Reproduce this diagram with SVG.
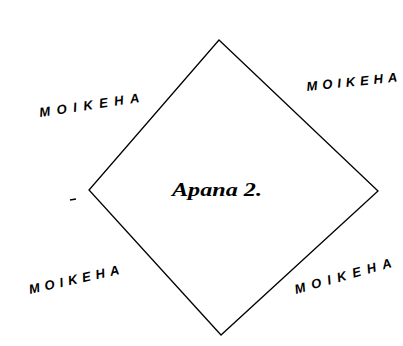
<svg xmlns="http://www.w3.org/2000/svg" width="403" height="346" viewBox="0 0 403 346">
<style>
.lbl{font-family:"Liberation Sans",Arial,sans-serif;font-size:13px;font-style:italic;font-weight:bold;fill:#000}
.edge{fill:none;stroke:#000;stroke-width:1.3}
.name{font-family:"Liberation Serif","Times New Roman",serif;font-style:italic;font-weight:bold;font-size:18px;fill:#000}
</style>
<rect width="403" height="346" fill="#fff"/>
<g id="parcel">
<polygon class="edge" points="219,40 378,191 221,335 89,190"/>
<text class="name" x="172" y="196" textLength="90" lengthAdjust="spacingAndGlyphs">Apana 2.</text>
</g>
<g id="mark">
<path d="M70,200 L76,199" stroke="#000" stroke-width="1.5"/>
</g>
<g id="label-nw"><text class="lbl" transform="translate(40,117) rotate(-8.5)" textLength="101" lengthAdjust="spacing">MOIKEHA</text></g>
<g id="label-ne"><text class="lbl" transform="translate(307,91) rotate(-6)" textLength="91" lengthAdjust="spacing">MOIKEHA</text></g>
<g id="label-sw"><text class="lbl" transform="translate(30,294) rotate(-12.5)" textLength="92" lengthAdjust="spacing">MOIKEHA</text></g>
<g id="label-se"><text class="lbl" transform="translate(296,294) rotate(-15.7)" textLength="100" lengthAdjust="spacing">MOIKEHA</text></g>
</svg>
